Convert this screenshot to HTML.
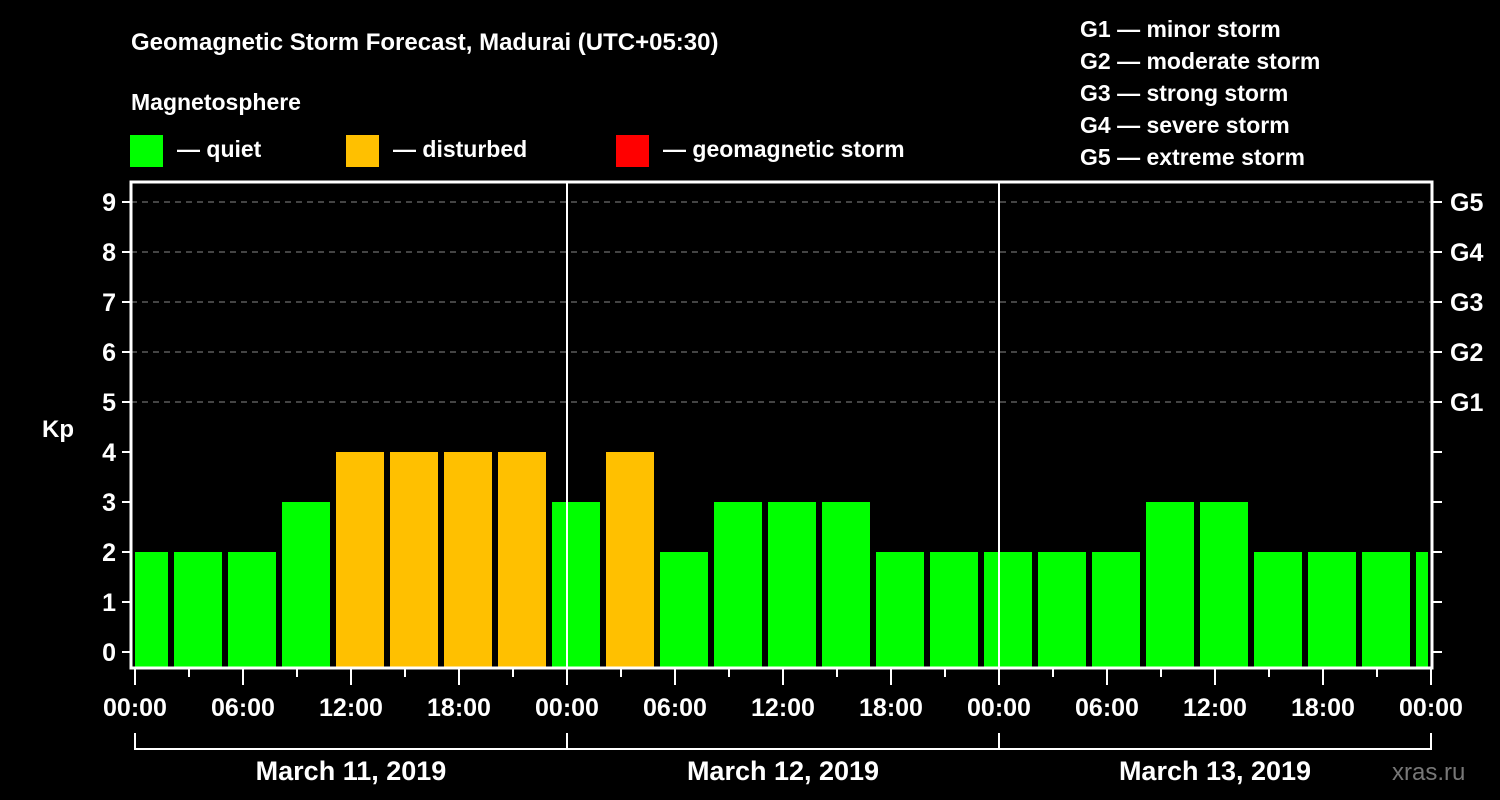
<!DOCTYPE html>
<html><head><meta charset="utf-8"><style>
html,body{margin:0;padding:0;background:#000;}
svg{display:block;font-family:"Liberation Sans",Arial,sans-serif;font-weight:bold;}
</style></head><body>
<svg id="c" width="1500" height="800" viewBox="0 0 1500 800">
<rect width="1500" height="800" fill="#000"/>
<text x="131" y="50" fill="#fff" font-size="24">Geomagnetic Storm Forecast, Madurai (UTC+05:30)</text>
<text x="131" y="110" fill="#fff" font-size="23">Magnetosphere</text>
<g><rect x="130" y="135" width="33" height="32" fill="#00ff00"/><text x="177" y="157" fill="#fff" font-size="23">— quiet</text></g>
<g><rect x="346" y="135" width="33" height="32" fill="#ffc000"/><text x="393" y="157" fill="#fff" font-size="23">— disturbed</text></g>
<g><rect x="616" y="135" width="33" height="32" fill="#ff0000"/><text x="663" y="157" fill="#fff" font-size="23">— geomagnetic storm</text></g>
<g fill="#fff" font-size="23">
<text x="1080" y="37">G1 — minor storm</text>
<text x="1080" y="69">G2 — moderate storm</text>
<text x="1080" y="101">G3 — strong storm</text>
<text x="1080" y="133">G4 — severe storm</text>
<text x="1080" y="165">G5 — extreme storm</text>
</g>
<text x="42" y="437" fill="#fff" font-size="24">Kp</text>
<g id="grid"></g><g id="bars"></g><g id="axes"></g>
<text x="1392" y="780" fill="#777" font-size="24" font-weight="normal">xras.ru</text>
</svg>
<script>
const kpValues = [2,2,2,3,4,4,4,4,3,4,2,3,3,3,2,2,2,2,2,3,3,2,2,2,2];
const yTicks = [0,1,2,3,4,5,6,7,8,9];
const gLabels = ["G1","G2","G3","G4","G5"];
const hourLabels = ["00:00","06:00","12:00","18:00"];
const dayLabels = ["March 11, 2019","March 12, 2019","March 13, 2019"];

const NS="http://www.w3.org/2000/svg";
const X0=135, DAYW=432, H3=54, L=131, R=1432, T=182, B=668;
const y=v=>652-50*v;
const xh=h=>X0+h*(DAYW/24);
function mk(tag,attrs,parent){const e=document.createElementNS(NS,tag);for(const k in attrs)e.setAttribute(k,attrs[k]);parent.appendChild(e);return e;}
const grid=document.getElementById('grid'),bars=document.getElementById('bars'),axes=document.getElementById('axes');

yTicks.forEach(v=>{
  if(v>=5){const g=mk('line',{x1:L,x2:R,y1:y(v),y2:y(v),stroke:'#888','stroke-dasharray':'6,5','stroke-width':1},grid);
  
  }
  const t=mk('line',{x1:122,x2:L,y1:y(v),y2:y(v),stroke:'#fff','stroke-width':2},axes);
  
  
  const t2=mk('line',{x1:R,x2:1442,y1:y(v),y2:y(v),stroke:'#fff','stroke-width':2},axes);
  
  
  const lb=mk('text',{x:116,y:y(v)+9,fill:'#fff','font-size':25,'text-anchor':'end'},axes);lb.textContent=v;
  
  
});
gLabels.forEach((g,i)=>{
  const lb=mk('text',{x:1450,y:y(5+i)+9,fill:'#fff','font-size':25},axes);lb.textContent=g;
  
  
});

kpValues.forEach((v,i)=>{
  let x1=X0-15+i*H3, x2=x1+48;
  x1=Math.max(x1,X0); x2=Math.min(x2,R-4);
  const col=v>=5?'#ff0000':(v>=4?'#ffc000':'#00ff00');
  const r=mk('rect',{x:x1,y:y(v),width:x2-x1,height:B-1-y(v),fill:col},bars);
  
  
});

// day separators
for(let d=1;d<3;d++){const l=mk('line',{x1:X0+d*DAYW,x2:X0+d*DAYW,y1:T,y2:B,stroke:'#fff','stroke-width':2},axes);
  
  }
const fr=mk('rect',{x:L,y:T,width:R-L,height:B-T,fill:'none',stroke:'#fff','stroke-width':3},axes);



for(let h=0;h<=72;h+=3){
  const major=h%6===0;
  const tk=mk('line',{x1:xh(h),x2:xh(h),y1:B,y2:major?685:677,stroke:'#fff','stroke-width':2},axes);
  
  
  if(major){const lb=mk('text',{x:xh(h),y:716,fill:'#fff','font-size':25,'text-anchor':'middle'},axes);
    lb.textContent=h===72?hourLabels[0]:hourLabels[(h/6)%4];
    
    }
}
const br=mk('path',{d:`M${X0} 733 V749 H${X0+3*DAYW} V733 M${X0+DAYW} 749 V733 M${X0+2*DAYW} 749 V733`,stroke:'#fff','stroke-width':2,fill:'none'},axes);


dayLabels.forEach((d,i)=>{
  const lb=mk('text',{x:X0+DAYW*(i+0.5),y:780,fill:'#fff','font-size':27,'text-anchor':'middle'},axes);lb.textContent=d;
  
  
});
</script>
</body></html>
